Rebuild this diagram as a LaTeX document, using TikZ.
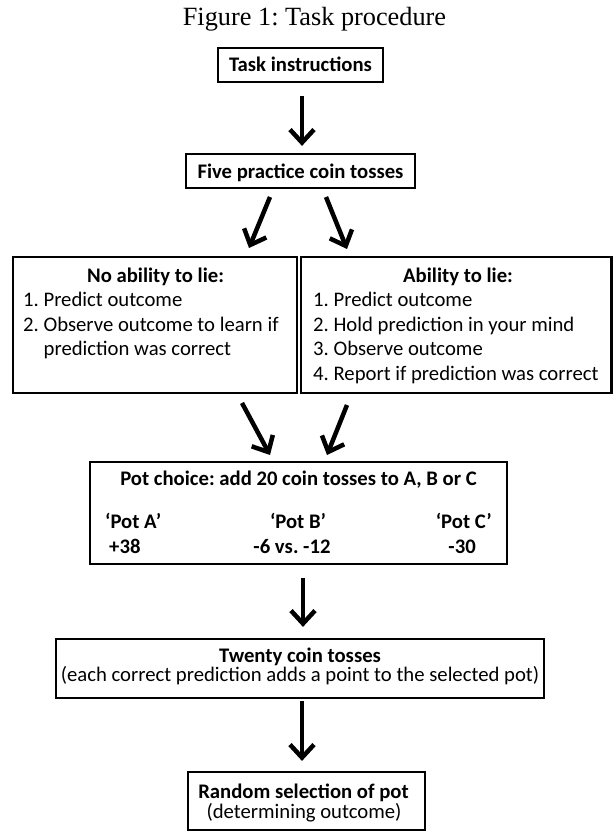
\documentclass[tikz,border=0pt]{standalone}
\usepackage{fontspec}
\setmainfont{Carlito}
\newfontfamily\titlefont{Liberation Serif}
\usetikzlibrary{arrows.meta}
\frenchspacing
\begin{document}
\begin{tikzpicture}[x=1pt,y=-1pt,
  box/.style={draw, line width=2.2pt, inner sep=0pt},
  txt/.style={inner sep=0pt, font=\fontsize{20.7}{24}\selectfont},
  btxt/.style={inner sep=0pt, font=\fontsize{20.7}{24}\selectfont\bfseries},
  arr/.style={line width=4.5pt, -{Straight Barb[length=13pt,width=24pt]}}]
\useasboundingbox (0,0) rectangle (613,832);
\node[inner sep=0pt, anchor=base, font=\titlefont\fontsize{26.3}{30}\selectfont] (title) at (314.5,26) {Figure 1: Task procedure};

% boxes
\node[box, minimum width=165pt, minimum height=34pt] (task) at (300.5,65) {};
\node[box, minimum width=229pt, minimum height=34pt] (five) at (300.5,171) {};
\node[box, minimum width=284pt, minimum height=136pt] (left) at (155,325) {};
\node[box, minimum width=310.5pt, minimum height=136pt] (right) at (456.25,325) {};
\node[box, minimum width=417pt, minimum height=102pt] (pot) at (298.5,513) {};
\node[box, minimum width=488pt, minimum height=59pt] (twenty) at (300,668.5) {};
\node[box, minimum width=237pt, minimum height=58pt] (random) at (306.5,801) {};

% texts
\node[btxt, anchor=base] (tTask) at (300.5,72) {Task instructions};
\node[btxt, anchor=base] (tFive) at (300.5,178) {Five practice coin tosses};

\node[btxt, anchor=base] (lH) at (155.5,282) {No ability to lie:};
\node[txt, anchor=base west] (l1) at (23,306.6) {1. Predict outcome};
\node[txt, anchor=base west] (l2) at (23,331.2) {2. Observe outcome to learn if};
\node[txt, anchor=base west] (l3) at (43.5,355.8) {prediction was correct};

\node[btxt, anchor=base] (rH) at (458,282) {Ability to lie:};
\node[txt, anchor=base west] (r1) at (313,306.6) {1. Predict outcome};
\node[txt, anchor=base west] (r2) at (313,331.2) {2. Hold prediction in your mind};
\node[txt, anchor=base west] (r3) at (313,355.8) {3. Observe outcome};
\node[txt, anchor=base west] (r4) at (313,380.4) {4. Report if prediction was correct};

\node[btxt, anchor=base] (pH) at (298.5,485) {Pot choice: add 20 coin tosses to A, B or C};
\node[btxt, anchor=base west] (pA) at (105,528) {‘Pot A’};
\node[btxt, anchor=base west] (pA2) at (109,553) {+38};
\node[btxt, anchor=base] (pB) at (298,528) {‘Pot B’};
\node[btxt, anchor=base] (pB2) at (292,553) {-6 vs. -12};
\node[btxt, anchor=base east] (pC) at (492,528) {‘Pot C’};
\node[btxt, anchor=base east] (pC2) at (476,553) {-30};

\node[btxt, anchor=base] (wH) at (300,662) {Twenty coin tosses};
\node[txt, anchor=base] (w1) at (300,681) {(each correct prediction adds a point to the selected pot)};

\node[btxt, anchor=base] (sH) at (303.5,798) {Random selection of pot};
\node[txt, anchor=base] (s1) at (304,818) {(determining outcome)};

% arrow end points
\coordinate (d1s) at (270,197);
\coordinate (d1e) at (249,248);
\coordinate (d2s) at (326,197);
\coordinate (d2e) at (347,249);
\coordinate (d3s) at (242,403);
\coordinate (d3e) at (270,455);
\coordinate (d4s) at (347,405);
\coordinate (d4e) at (327,455);

% arrows
\draw[arr, shorten <=13pt, shorten >=7pt] ([xshift=1.5pt]task.south) -- ([xshift=1.5pt]five.north);
\draw[arr] (d1s) -- (d1e);
\draw[arr] (d2s) -- (d2e);
\draw[arr] (d3s) -- (d3e);
\draw[arr] (d4s) -- (d4e);
\draw[arr, shorten <=13pt, shorten >=11pt] ([xshift=4.5pt]pot.south) -- ([xshift=4.5pt]pot.south |- twenty.north);
\draw[arr, shorten <=2pt, shorten >=10pt] ([xshift=2pt]twenty.south) -- ([xshift=2pt]twenty.south |- random.north);
\end{tikzpicture}
\end{document}
